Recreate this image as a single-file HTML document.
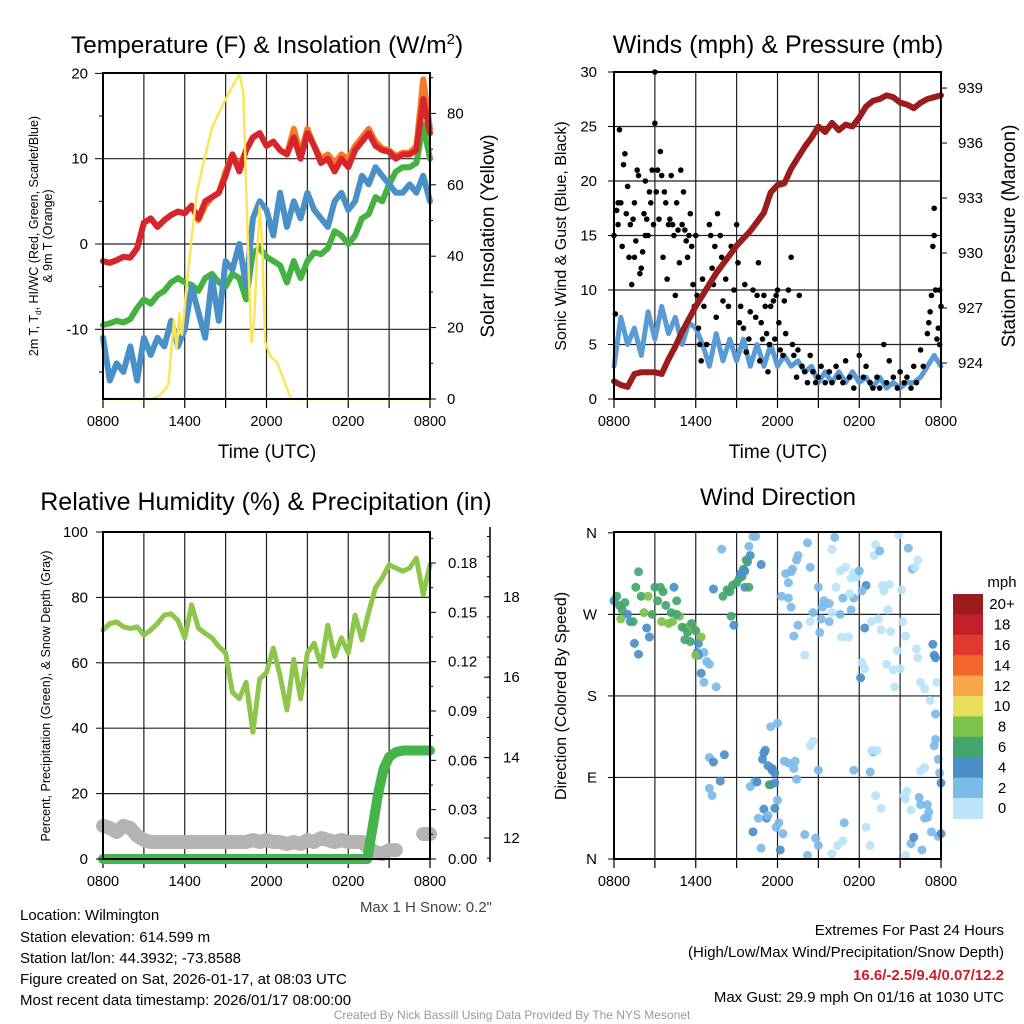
<!DOCTYPE html>
<html><head><meta charset="utf-8"><style>
html,body{margin:0;padding:0;background:#fff;}
svg{display:block;font-family:"Liberation Sans",Arial,sans-serif;}
</style></head><body>
<svg id="chart" width="1024" height="1024" viewBox="0 0 1024 1024" xmlns="http://www.w3.org/2000/svg">
<rect width="1024" height="1024" fill="#fff"/>
<g id="p1"></g>
<g id="p2"></g>
<g id="p3"></g>
<g id="p4"></g>
<g id="txt">
<text x="267" y="53" font-size="24.5" text-anchor="middle">Temperature (F) &amp; Insolation (W/m<tspan font-size="15" dy="-9">2</tspan><tspan dy="9">)</tspan></text>
<text transform="translate(38,236) rotate(-90)" font-size="12.5" text-anchor="middle">2m T, T<tspan font-size="8" dy="3">d</tspan><tspan dy="-3">, HI/WC (Red, Green, Scarlet/Blue)</tspan></text>
<text transform="translate(52,236) rotate(-90)" font-size="12.5" text-anchor="middle">&amp; 9m T (Orange)</text>
<text transform="translate(494,236) rotate(-90)" font-size="19" text-anchor="middle">Solar Insolation (Yellow)</text>
<text x="267" y="458" font-size="19" text-anchor="middle">Time (UTC)</text>
<text x="778" y="53" font-size="25" text-anchor="middle">Winds (mph) &amp; Pressure (mb)</text>
<text transform="translate(566,236) rotate(-90)" font-size="16" text-anchor="middle">Sonic Wind &amp; Gust (Blue, Black)</text>
<text transform="translate(1015,236) rotate(-90)" font-size="19" text-anchor="middle">Station Pressure (Maroon)</text>
<text x="778" y="458" font-size="19" text-anchor="middle">Time (UTC)</text>
<text x="266" y="510" font-size="25" text-anchor="middle">Relative Humidity (%) &amp; Precipitation (in)</text>
<text transform="translate(50,696) rotate(-90)" font-size="12.5" text-anchor="middle">Percent, Precipitation (Green), &amp; Snow Depth (Gray)</text>
<text x="492" y="912" font-size="15" fill="#444" text-anchor="end">Max 1 H Snow: 0.2"</text>
<text x="778" y="505" font-size="24" text-anchor="middle">Wind Direction</text>
<text transform="translate(566,696) rotate(-90)" font-size="16" text-anchor="middle">Direction (Colored By Speed)</text>
<g font-size="15">
<text x="20" y="920">Location: Wilmington</text>
<text x="20" y="942">Station elevation: 614.599 m</text>
<text x="20" y="963">Station lat/lon: 44.3932; -73.8588</text>
<text x="20" y="984">Figure created on Sat, 2026-01-17, at 08:03 UTC</text>
<text x="20" y="1005">Most recent data timestamp: 2026/01/17 08:00:00</text>
<text x="1004" y="935" text-anchor="end">Extremes For Past 24 Hours</text>
<text x="1004" y="957" text-anchor="end">(High/Low/Max Wind/Precipitation/Snow Depth)</text>
<text x="1004" y="980" text-anchor="end" fill="#c8202a" font-weight="bold">16.6/-2.5/9.4/0.07/12.2</text>
<text x="1004" y="1002" text-anchor="end">Max Gust: 29.9 mph On 01/16 at 1030 UTC</text>
</g>
<text x="512" y="1019" font-size="12" fill="#999" text-anchor="middle">Created By Nick Bassill Using Data Provided By The NYS Mesonet</text>
</g>
</svg>
<script>
// ---- data ----
const timeTicks = ["0800","1400","2000","0200","0800"];
const tempRed = [-2.0,-2.2,-1.9,-1.5,-1.6,-0.5,2.5,3.0,2.0,2.8,3.4,3.8,3.6,4.5,3.0,5.0,5.5,6.0,8.0,10.5,8.5,11.0,12.5,13.0,11.5,12.0,11.0,10.5,12.5,10.0,13.0,11.5,9.5,10.0,8.5,10.0,9.0,11.0,12.0,13.0,11.5,11.0,10.8,10.0,10.5,10.5,11.0,17.0,13.0];
const tempOrange = [-2.0,-2.2,-1.9,-1.5,-1.6,-0.5,2.5,3.0,2.0,2.8,3.4,3.8,3.6,4.5,2.8,4.5,5.5,6.0,8.5,10.5,9.0,11.0,12.5,13.0,11.5,12.0,11.0,10.5,13.5,10.5,13.5,11.5,10.0,10.5,9.5,10.5,10.0,11.5,12.5,13.5,12.0,11.2,11.0,10.3,10.7,10.7,11.5,19.3,13.5];
const dewGreen = [-9.5,-9.3,-9.0,-9.2,-8.8,-7.5,-6.5,-7.0,-6.0,-5.5,-4.5,-4.0,-4.5,-4.8,-5.5,-4.0,-3.5,-4.5,-5.0,-3.5,-4.0,-6.5,-1.0,-0.5,-1.5,-2.0,-2.5,-4.5,-2.0,-4.0,-2.0,-1.0,-1.2,-0.5,1.5,1.0,0.0,1.0,3.0,3.5,5.5,5.0,7.0,8.5,9.0,9.0,9.5,14.0,10.0];
const windChill = [-11,-16,-14,-15,-12,-16,-11,-13,-11,-12,-9,-12,-10,-5,-8,-11,-4,-9,-2,-3,0,-5,3,5,4,1,6,2,5,3,6,4,3,2,5,6,4,5,8,7,9,8,7,6,6,7,6,8,5];
const solarHours = [0,3.5,4.2,4.8,5.2,5.4,5.6,5.8,6.1,6.5,6.9,7.3,8,9,10,10.3,10.5,10.7,10.9,11.1,11.3,11.5,11.7,11.9,12.3,12.8,13.3,13.8,24];
const solarVals = [0,0,1,4,22,14,24,18,30,45,58,65,76,84,91,86,60,35,16,22,40,54,42,16,12,10,5,0,0];
const tempTicks = [20,10,0,-10];
const solarTicks = [0,20,40,60,80];

const windSpeed = [3,7.5,5,6.5,4,8,5.5,8.5,6,7.5,5,7,6.5,5,3,6,3.5,5.5,3.5,5.5,3,5,3,5,3,4,3,3.5,2.5,3,1.5,2.5,1.5,2.5,1.5,2.5,1.5,2,1,2,1,1.5,1,1.5,1.5,2,3,4,3];
const pressure = [923.0,922.8,922.7,923.4,923.5,923.5,923.5,923.4,924.2,924.9,925.7,926.4,927.1,927.7,928.3,928.9,929.4,929.9,930.4,930.8,931.2,931.7,932.2,933.3,933.7,933.8,934.6,935.2,935.8,936.3,936.9,936.6,937.1,936.7,937.0,936.9,937.4,938.0,938.3,938.4,938.6,938.5,938.2,938.1,937.9,938.2,938.4,938.5,938.6];
const gustHours = [0,0.1,0.2,0.3,0.4,0.3,0.5,0.6,0.7,0.8,0.9,1.0,1.1,1.2,1.3,1.4,1.5,1.5,1.6,1.7,1.8,1.9,2.0,2.1,2.2,2.3,2.3,2.4,2.5,2.6,2.7,2.8,2.9,3.0,3.0,3.1,3.2,3.3,3.4,3.5,3.6,3.7,3.8,3.9,4.0,4.1,4.2,4.3,4.4,4.5,4.6,4.7,4.8,4.9,5.0,5.1,5.2,5.3,5.4,5.5,5.6,5.7,5.8,5.9,6.0,6.1,6.2,6.3,6.4,6.5,6.6,6.8,7.0,7.1,7.2,7.3,7.4,7.5,7.6,7.8,7.9,8.0,8.2,8.4,8.6,8.8,9.0,9.1,9.2,9.3,9.5,9.6,9.7,9.9,10.0,10.2,10.4,10.5,10.6,10.7,10.8,10.9,11.0,11.1,11.2,11.3,11.4,11.5,11.7,11.8,11.9,12.0,12.1,12.2,12.4,12.5,12.6,12.8,13.0,13.1,13.2,13.4,13.5,13.6,13.8,14.0,14.2,14.4,14.6,14.8,15.0,15.2,15.5,15.8,16.0,16.3,16.5,16.8,17.0,17.3,17.6,18.0,18.3,18.5,18.8,19.0,19.3,19.5,19.8,20.0,20.2,20.5,20.8,21.0,21.3,21.5,21.8,22.0,22.2,22.5,22.7,23.0,23.1,23.2,23.3,23.4,23.5,23.6,23.7,23.8,23.9,24.0,23.5,23.9];
const gustVals = [15,7.8,17.3,18,24.7,16,18,14,21.5,22.5,17,19.5,13,16,10.5,16.5,18,13,14.5,21,20.5,11.5,12,13.5,17,15,20,16.5,15,19,18,21,16,30,25.3,19,21,16.5,22.7,20.5,13,19,18,11,16,16.5,20.5,16,15,9.5,18,15.5,12.5,21,16,19,15.5,14.5,13,15,17,14,10.5,8.5,15,9.5,6.5,5,3.5,11,8.5,5,16,15,12,10.5,14,7.5,17,15,13,9,11,8.5,14,10,16,12.5,7,8.5,6.5,10.5,4.3,5.5,8,10,7.5,9.5,12.5,3.5,7,5.5,9.5,8.5,6,2.5,5,8.5,9,5.5,9.5,10,7,4.5,4,9,6,10,13,5,4,2,4.5,9.5,3,2.5,1.5,4,2.5,1.5,2,3,1.5,2.5,1.5,3,2,1.5,3.5,2,1,4,2,3,1.5,1,2,1,5,1.5,3.5,2,1,2.5,1.5,2,1,3,1.5,4.5,3,6,7,8,9.5,14,17.5,10,5.5,6.5,10,8.5,15,5];
const windTicks = [0,5,10,15,20,25,30];
const pressTicks = [924,927,930,933,936,939];

const rhVals = [70,72,72.5,71,70.5,71,68.5,70,72,74.6,75,73,67.6,77.7,70.6,69,67.6,65,63,51,49,54,38.8,55,57,64.5,56,45.6,61,49,63,66,59,71.5,62,67.6,63,74.6,67,75.5,83,86,90,89,88,89,92,80.8,90];
const precipHours = [0,19.4,19.8,20.2,20.6,21.0,21.5,22,24];
const precipVals = [0,0,0.02,0.04,0.055,0.062,0.065,0.066,0.066];
const snowVals = [12.3,12.25,12.15,12.3,12.25,12.05,11.95,11.9,11.9,11.9,
 11.9,11.9,11.9,11.9,11.9,11.9,11.9,11.9,11.9,11.9,
 11.9,11.9,11.95,11.9,11.95,11.9,11.9,11.85,11.9,11.85,
 11.95,11.9,12.0,11.95,11.9,11.95,11.9,11.9,11.9,11.75,
 11.65,11.6,11.7,11.7,null,null,null,12.1,12.1];
const rhTicks = [0,20,40,60,80,100];
const precipTicks = ["0.00","0.03","0.06","0.09","0.12","0.15","0.18"];
const snowTicks = [12,14,16,18];

const dirHours = [0,0.2,0.4,0.6,0.8,1.0,1.2,1.4,1.6,1.8,2.0,2.2,2.4,2.6,2.8,3.0,3.2,3.4,3.6,3.8,4.0,4.2,4.4,4.6,4.8,5.0,5.2,5.4,5.6,5.8,6.0,6.2,6.4,6.6,6.8,6.2,1.5,1.8,5.2,5.6,6.1,2.5,3.5,0.5,4.3,6.0,4.6,5.7,
 6.4,6.6,7.0,7.5,7.9,7.3,8.0,8.3,8.5,8.7,9.0,9.2,9.4,9.5,9.6,9.8,9.9,10.2,10.4,10.8,8.6,9.6,8.8,9.3,9.7,10.0,9.9,
 7.0,7.3,7.0,7.2,8.1,7.8,10.0,10.3,10.5,10.9,11.1,11.3,11.5,11.0,11.6,11.6,11.8,11.4,11.8,12.5,12.8,13.2,13.4,13.3,12.0,11.5,12.0,11.0,11.8,11.9,11.2,12.1,10.6,10.2,12.4,12.2,10.8,14.0,14.2,11.3,
 12.3,12.6,13.0,12.8,13.1,13.5,13.4,12.8,13.0,13.2,13.5,14.2,14.4,14.0,14.4,14.6,15.0,15.2,15.3,15.8,15.4,15.8,15.1,16.6,16.8,16.3,16.2,16.0,16.6,17.0,17.4,17.6,16.0,16.7,17.2,17.4,17.6,17.8,17.3,18.0,18.4,18.1,18.2,18.4,18.5,18.2,18.9,19.1,19.2,19.5,19.7,19.8,19.4,19.6,20.2,20.1,20.3,20.0,20.5,20.6,20.8,20.9,21.1,21.2,21.4,21.0,21.6,21.9,22.1,22.3,22.2,22.3,23.4,23.5,23.6,
 14.4,14.6,15.0,17.6,18.8,19.0,19.3,19.2,19.6,21.3,21.5,21.4,21.8,22.4,22.5,22.8,23.0,23.1,23.0,23.3,23.8,24.0,23.5,23.6,23.8,23.9,24.0,21.8,22.0,22.6,16.0,16.4,18.5,18.8,16.8,16.9,15.0,14.8,21.4,18.9,23.6,23.7,23.2,22.5,22.8,22.5,22.8];
const dirDegs = [285,290,280,275,283,270,262,262,300,317,290,272,255,245,270,300,285,300,295,280,260,272,300,285,268,256,255,250,258,255,252,238,245,228,218,225,238,226,242,240,228,290,262,265,262,225,270,260,
 205,195,215,190,342,298,290,297,295,302,305,310,312,320,318,328,345,356,356,325,268,300,258,315,330,335,300,
 112,107,78,70,115,86,80,85,85,110,120,103,82,117,100,98,95,82,84,108,106,100,88,108,150,146,65,55,56,35,45,40,45,30,28,10,12,27,4,48,
 290,315,317,305,320,335,330,288,278,246,258,349,322,225,262,272,300,265,278,282,285,262,250,270,288,300,355,342,318,322,310,316,272,245,245,275,288,311,293,318,255,200,217,210,302,296,262,335,347,340,302,296,265,253,303,275,251,215,209,190,230,358,297,262,246,210,343,320,322,330,232,222,237,225,222,
 125,130,98,98,96,118,120,70,56,70,75,66,54,68,60,45,60,52,46,30,25,28,125,132,110,95,84,17,24,10,6,15,35,15,20,40,15,23,4,120,160,195,175,97,101,195,188];
const dirSpeeds = [4,6,6,7,6,5,4,6,6,6,7,8,4,4,6,6,7,6,6,6,8,6,4,6,8,6,7,6,8,8,6,5,8,3,2,4,5,5,6,6,4,8,8,9,9,9,7,7,
 4,3,3,2,2,4,6,6,6,6,7,7,6,6,4,4,3,3,2,4,6,4,4,5,6,4,7,
 3,4,2,2,4,4,2,2,4,4,4,4,4,4,4,4,4,6,4,3,3,3,2,3,3,3,2,4,4,3,4,3,2,4,2,4,2,2,2,3,
 2,2,2,2,3,2,2,2,3,2,2,2,2,1,1,2,3,2,2,2,2,2,2,3,3,1,2,1,1,1,1,1,1,1,1,3,2,1,1,3,4,4,1,1,4,3,1,1,1,2,1,1,1,1,1,1,1,1,1,1,1,1,1,1,1,1,2,2,1,1,1,1,4,5,4,
 1,1,2,3,2,2,1,1,1,1,1,1,1,3,3,3,3,2,3,2,2,4,3,3,3,3,4,2,4,2,1,1,1,1,1,2,2,3,1,1,3,1,1,1,1,1,1];
const dirTicks = ["N","W","S","E","N"];
const dirTickDegs = [360,270,180,90,0];
const speedLabels = ["20+","18","16","14","12","10","8","6","4","2","0"];
const speedColors = ["#9b1b1f","#c3202b","#e03a2e","#f2662c","#f9a64b","#e8e05a","#7dc24a","#44a66c","#4a8fc8","#7cbae8","#b9e4f9"];

// ---- helpers ----
const NS = "http://www.w3.org/2000/svg";
function mk(parent, tag, attrs){const e=document.createElementNS(NS,tag);for(const k in attrs)e.setAttribute(k,attrs[k]);parent.appendChild(e);return e;}
function pts(xs, ys, fx, fy){const out=[];let cur=[];for(let i=0;i<xs.length;i++){if(ys[i]===null){if(cur.length)out.push(cur);cur=[];continue;}cur.push(fx(xs[i]).toFixed(1)+","+fy(ys[i]).toFixed(1));}if(cur.length)out.push(cur);return out;}
const halfHours = rhVals.map((v,i)=>i*0.5);

function frame(g, x0, x1, y0, y1, hGrid){
  for(let h=3;h<24;h+=3){const x=x0+h*(x1-x0)/24;const l=mk(g,"line",{x1:x,x2:x,y1:y0,y2:y1,stroke:"#222","stroke-width":1.2});
  
  }
  hGrid.forEach(y=>{const l=mk(g,"line",{x1:x0,x2:x1,y1:y,y2:y,stroke:"#222","stroke-width":1.2});
  
  });
  timeTicks.forEach((t,i)=>{const x=x0+i*(x1-x0)/4;const tx=mk(g,"text",{x:x,y:y1+27,"font-size":14.5,"text-anchor":"middle"});tx.textContent=t;
  
  });
  for(let h=0;h<=24;h+=3){const x=x0+h*(x1-x0)/24;mk(g,"line",{x1:x,x2:x,y1:y1,y2:y1+9,stroke:"#000","stroke-width":1.2});}
}
function border(g,x0,x1,y0,y1){const r=mk(g,"rect",{x:x0,y:y0,width:x1-x0,height:y1-y0,fill:"none",stroke:"#000","stroke-width":2});

}
function line(g,xs,ys,fx,fy,color,w,name){pts(xs,ys,fx,fy).forEach(seg=>{const p=mk(g,"polyline",{points:seg.join(" "),fill:"none",stroke:color,"stroke-width":w,"stroke-linejoin":"round","stroke-linecap":"round"});

});}
function ylabel(g,x,y,t,anchor){const e=mk(g,"text",{x:x,y:y+5,"font-size":15,"text-anchor":anchor});e.textContent=t;

return e;}

// ---- panel 1 ----
(function(){
  const g=document.getElementById("p1");
  const X0=103,X1=430,Y0=73,Y1=399;
  const xs=h=>X0+h*(X1-X0)/24, yT=v=>244-v*8.53, yS=v=>399-v*3.57;
  frame(g,X0,X1,Y0,Y1,[yT(10),yT(0),yT(-10)]);
  line(g,halfHours,dewGreen,xs,yT,"#45b23f",6,"dewpoint-line");
  line(g,halfHours,windChill,xs,yT,"#4a90c8",6,"windchill-line");
  line(g,halfHours,tempOrange,xs,yT,"#f47a2a",6,"temp-9m-line");
  line(g,halfHours,tempRed,xs,yT,"#d7262b",6,"temp-2m-line");
  line(g,solarHours,solarVals,xs,yS,"#fde456",2.5,"solar-line");
  border(g,X0,X1,Y0,Y1);
  tempTicks.forEach(v=>{ylabel(g,88,yT(v),String(v),"end");mk(g,"line",{x1:95,x2:X0,y1:yT(v),y2:yT(v),stroke:"#000"});});
  for(let v=-15;v<=15;v+=10)mk(g,"line",{x1:99,x2:X0,y1:yT(v),y2:yT(v),stroke:"#000"});
  solarTicks.forEach(v=>{ylabel(g,447,yS(v),String(v),"start");mk(g,"line",{x1:X1,x2:X1+6,y1:yS(v),y2:yS(v),stroke:"#000"});});
  for(let v=10;v<=90;v+=20)mk(g,"line",{x1:X1,x2:X1+3,y1:yS(v),y2:yS(v),stroke:"#000"});
})();

// ---- panel 2 ----
(function(){
  const g=document.getElementById("p2");
  const X0=614,X1=941,Y0=72,Y1=399;
  const xs=h=>X0+h*(X1-X0)/24, yW=v=>399-v*10.9, yP=p=>363-(p-924)*18.33;
  frame(g,X0,X1,Y0,Y1,windTicks.slice(1,6).map(yW));
  line(g,halfHours,windSpeed,xs,yW,"#5a9bd5",5,"wind-speed-line");
  gustHours.forEach((h,i)=>{const c=mk(g,"circle",{cx:xs(h),cy:yW(gustVals[i]),r:2.8,fill:"#000"});
  
  });
  line(g,halfHours,pressure,xs,yP,"#9b1c1c",6,"pressure-line");
  border(g,X0,X1,Y0,Y1);
  windTicks.forEach(v=>{ylabel(g,597,yW(v),String(v),"end");mk(g,"line",{x1:X0-6,x2:X0,y1:yW(v),y2:yW(v),stroke:"#000"});});
  pressTicks.forEach(v=>{ylabel(g,958,yP(v),String(v),"start");mk(g,"line",{x1:X1,x2:X1+6,y1:yP(v),y2:yP(v),stroke:"#000"});});
})();

// ---- panel 3 ----
(function(){
  const g=document.getElementById("p3");
  const X0=103,X1=430,Y0=532,Y1=859;
  const xs=h=>X0+h*(X1-X0)/24, yR=v=>859-v*3.27, yPr=v=>859-v*1644.4, ySn=v=>838-(v-12)*40.2;
  frame(g,X0,X1,Y0,Y1,[20,40,60,80].map(yR));
  line(g,halfHours,snowVals,xs,ySn,"#b4b4b4",14,"snow-depth-line");
  line(g,halfHours,rhVals,xs,yR,"#8dc64b",5,"humidity-line");
  line(g,precipHours,precipVals,xs,yPr,"#45b549",10,"precipitation-line");
  border(g,X0,X1,Y0,Y1);
  rhTicks.forEach(v=>{ylabel(g,88,yR(v),String(v),"end");mk(g,"line",{x1:96,x2:X0,y1:yR(v),y2:yR(v),stroke:"#000"});});
  precipTicks.forEach(t=>{const v=parseFloat(t);ylabel(g,448,yPr(v),t,"start");mk(g,"line",{x1:X1,x2:X1+6,y1:yPr(v),y2:yPr(v),stroke:"#000"});});
  for(let v=0.015;v<0.2;v+=0.03)mk(g,"line",{x1:X1,x2:X1+3,y1:yPr(v),y2:yPr(v),stroke:"#000"});
  const ax=mk(g,"line",{x1:490,x2:490,y1:527,y2:862,stroke:"#000","stroke-width":1.5});
  
  
  snowTicks.forEach(v=>{ylabel(g,503,ySn(v),String(v),"start");mk(g,"line",{x1:484,x2:490,y1:ySn(v),y2:ySn(v),stroke:"#000"});});
  for(let v=11.5;v<=20;v+=0.5){const y=ySn(v);if(y>=527&&y<=862)mk(g,"line",{x1:487,x2:490,y1:y,y2:y,stroke:"#000"});}
})();

// ---- panel 4 ----
(function(){
  const g=document.getElementById("p4");
  const X0=614,X1=941,Y0=532,Y1=859;
  const xs=h=>X0+h*(X1-X0)/24, yD=d=>859-d*0.906;
  frame(g,X0,X1,Y0,Y1,[90,180,270].map(yD));
  dirHours.forEach((h,i)=>{const s=dirSpeeds[i];const bin=Math.min(10,Math.floor(s/2));
  const c=mk(g,"circle",{cx:xs(h),cy:yD(dirDegs[i]),r:4.5,fill:speedColors[10-bin],"fill-opacity":0.92});
  
  });
  border(g,X0,X1,Y0,Y1);
  dirTicks.forEach((t,i)=>{const y=yD(dirTickDegs[i]);ylabel(g,597,y,t,"end");mk(g,"line",{x1:X0-6,x2:X0,y1:y,y2:y,stroke:"#000"});});
  // colorbar
  const h=20.4, top=594;
  const ttl=mk(g,"text",{x:1002,y:587,"font-size":15,"text-anchor":"middle"});ttl.textContent="mph";
  
  
  speedLabels.forEach((t,i)=>{const r=mk(g,"rect",{x:953,y:top+i*h,width:30,height:h+0.5,fill:speedColors[i]});
  
  
  const tx=mk(g,"text",{x:1002,y:top+i*h+h/2+5,"font-size":15,"text-anchor":"middle"});tx.textContent=t;
  
  });
})();
</script>
</body></html>
